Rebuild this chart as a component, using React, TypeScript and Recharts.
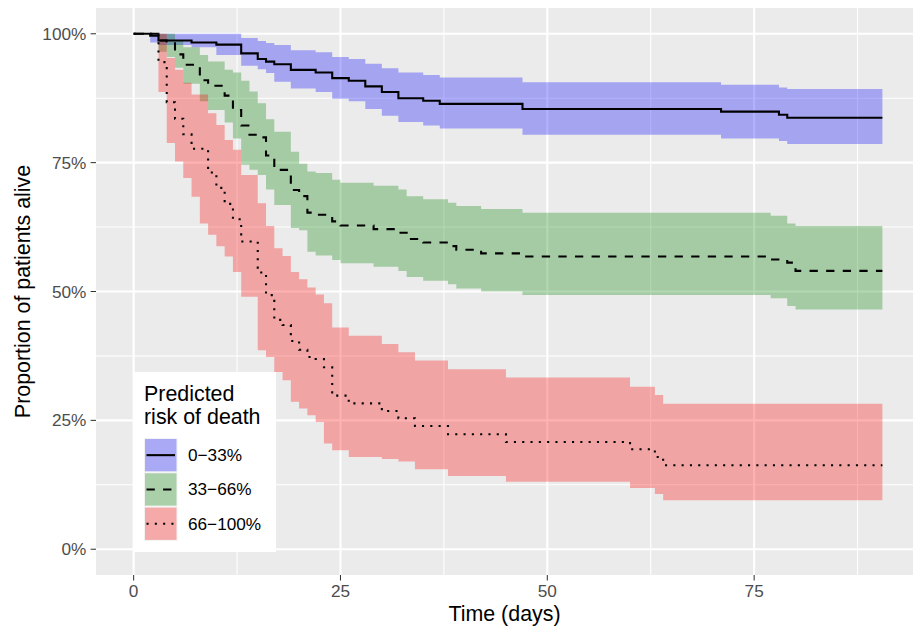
import {
  Area,
  CartesianGrid,
  ComposedChart,
  Legend,
  Line,
  XAxis,
  YAxis,
} from "recharts"

// days since admission, survival (%) and 95% band
const blueDays = [0, 2, 3, 7, 10, 13, 15, 16, 17, 19, 22, 24, 26, 28, 30, 32, 35, 37, 47, 71, 78, 79, 90.5]
const blueSurv = [100, 99.6, 98.7, 98.3, 97.9, 96.2, 95.1, 94.6, 94.1, 93.0, 92.5, 91.4, 90.9, 89.8, 88.7, 87.5, 87.0, 86.4, 85.4, 84.9, 84.3, 83.7, 83.7]
const blueLow = [100, 98.3, 97.8, 97.4, 95.9, 93.8, 93.1, 92.4, 90.7, 89.4, 88.7, 87.4, 86.9, 85.4, 84.1, 82.9, 82.2, 81.6, 80.4, 79.7, 79.2, 78.6, 78.6]
const blueHigh = [100, 100, 100, 100, 100, 99.2, 98.6, 98.2, 97.8, 96.8, 96.4, 95.5, 95.1, 94.2, 93.3, 92.5, 92.0, 91.5, 90.6, 90.1, 89.6, 89.3, 89.3]

const greenDays = [0, 3, 4, 5, 6, 8, 9, 11, 12, 13, 14, 15, 16, 17, 19, 20, 21, 22, 24, 25, 29, 32, 33, 35, 38, 39, 42, 47, 77, 79, 80, 90.5]
const greenSurv = [100, 98.7, 98.5, 96.0, 94.0, 91.0, 89.9, 88.0, 85.2, 82.2, 80.4, 79.9, 76.4, 73.6, 69.7, 68.5, 65.3, 64.9, 63.6, 62.8, 62.1, 61.4, 60.2, 59.5, 58.8, 58.1, 57.4, 56.8, 56.2, 55.6, 54.0, 54.0]
const greenLow = [100, 96.5, 95.5, 93.4, 90.3, 86.9, 85.2, 82.8, 79.7, 74.6, 73.6, 72.6, 69.8, 66.8, 62.3, 61.9, 57.7, 57.0, 56.1, 55.5, 54.8, 54.0, 52.8, 52.1, 51.4, 50.6, 50.0, 49.3, 48.7, 47.2, 46.5, 46.5]
const greenHigh = [100, 100, 100, 98.6, 97.4, 95.9, 94.6, 93.0, 92.5, 90.9, 88.8, 86.5, 83.4, 81.0, 77.1, 74.8, 73.3, 73.0, 71.7, 71.1, 70.5, 69.8, 68.5, 67.9, 67.2, 66.6, 66.0, 65.3, 64.7, 63.2, 62.7, 62.7]

const redDays = [0, 3, 4, 5, 6, 7, 8, 9, 10, 11, 12, 13, 15, 16, 17, 18, 19, 20, 21, 22, 23, 24, 26, 30, 32, 34, 38, 45, 60, 63, 64, 90.5]
const redSurv = [100, 94.5, 86.7, 83.5, 80.5, 77.7, 77.7, 73.1, 70.1, 67.0, 64.0, 59.7, 53.7, 49.3, 44.5, 43.5, 40.4, 38.7, 37.3, 36.9, 35.3, 29.8, 28.3, 26.8, 25.4, 23.9, 22.3, 20.8, 19.4, 17.9, 16.3, 16.3]
const redLow = [100, 88.7, 78.8, 75.2, 72.0, 68.4, 63.2, 61.0, 58.8, 56.8, 53.8, 49.0, 38.6, 37.3, 34.4, 32.8, 28.6, 27.3, 26.0, 24.7, 20.5, 19.2, 17.9, 17.5, 17.0, 15.5, 14.2, 13.1, 11.9, 10.7, 9.5, 9.5]
const redHigh = [100, 100, 95.3, 93.0, 90.5, 88.2, 88.2, 84.6, 82.3, 79.4, 77.5, 72.6, 67.1, 62.7, 58.4, 56.9, 53.8, 52.4, 50.8, 49.4, 47.7, 43.0, 41.4, 39.8, 38.2, 36.6, 34.9, 33.3, 31.5, 29.9, 28.2, 28.2]

const groupLabels = ["0\u221233%", "33\u221266%", "66\u2212100%"]
const groupFills = ["#0000FF", "#008000", "#FF0000"]
const groupDashes = [undefined, "8.3 8.3", "2.1 6.2"]

const xTicks = [0, 25, 50, 75]
const xMinor = [12.5, 37.5, 62.5, 87.5]
const yTicks = [0, 25, 50, 75, 100]
const yMinor = [12.5, 37.5, 62.5, 87.5]

const FONT = '"Liberation Sans", Arial, Helvetica, sans-serif'
const W = 920
const H = 629
const LEFT = 96
const TOP = 8
const RIGHT = 7
const BOTTOM = 54

function rows(days: number[], surv: number[], low: number[], high: number[]) {
  return days.map((t, i) => ({ t, s: surv[i], band: [low[i], high[i]] }))
}

const groups = [
  rows(blueDays, blueSurv, blueLow, blueHigh),
  rows(greenDays, greenSurv, greenLow, greenHigh),
  rows(redDays, redSurv, redLow, redHigh),
]

function LegendBox() {
  return (
    <svg width={143} height={180} style={{ display: "block" }}>
      <rect x={0} y={0} width={143} height={180} fill="#ffffff" />
      <text x={11} y={29} fontSize={21.4} fontFamily={FONT} fill="#000">
        Predicted
      </text>
      <text x={11} y={51.5} fontSize={21.4} fontFamily={FONT} fill="#000">
        risk of death
      </text>
      {groupLabels.map((label, i) => {
        const y = 66 + i * 34.3
        return (
          <g key={label}>
            <rect x={11} y={y} width={33.5} height={34.3} fill="#F2F2F2" />
            <rect
              x={12}
              y={y + 1}
              width={31.5}
              height={32.3}
              fill={groupFills[i]}
              fillOpacity={0.3}
            />
            <line
              x1={13.5}
              x2={42}
              y1={y + 17.15}
              y2={y + 17.15}
              stroke="#000"
              strokeWidth={2.07}
              strokeDasharray={groupDashes[i]}
            />
            <text
              x={55}
              y={y + 17.15}
              dy="0.35em"
              fontSize={17.2}
              fontFamily={FONT}
              fill="#000"
            >
              {label}
            </text>
          </g>
        )
      })}
    </svg>
  )
}

export default function App() {
  const plotMidY = TOP + (H - TOP - BOTTOM) / 2
  const plotMidX = LEFT + (W - LEFT - RIGHT) / 2
  return (
    <div style={{ width: W, height: H, background: "#fff" }}>
      <style>{"body{margin:0}"}</style>
      <ComposedChart
        width={W}
        height={H}
        margin={{ top: TOP, right: RIGHT, bottom: 0, left: 0 }}
      >
        <CartesianGrid
          fill="#EBEBEB"
          stroke="#FFFFFF"
          strokeWidth={1.03}
          verticalValues={xMinor}
          horizontalValues={yMinor}
        />
        <CartesianGrid
          fill="none"
          stroke="#FFFFFF"
          strokeWidth={2.07}
          verticalValues={xTicks}
          horizontalValues={yTicks}
        />

        <XAxis
          type="number"
          dataKey="t"
          domain={[-4.55, 94.2]}
          ticks={xTicks}
          interval={0}
          allowDataOverflow
          axisLine={false}
          tickLine={{ stroke: "#333333", strokeWidth: 1.03 }}
          tickSize={5.4}
          tickMargin={4}
          height={BOTTOM}
          tick={{ fill: "#4D4D4D", fontSize: 17.2, fontFamily: FONT }}
          label={() => (
            <text
              x={plotMidX}
              y={621}
              textAnchor="middle"
              fontSize={21.4}
              fontFamily={FONT}
              fill="#000"
            >
              Time (days)
            </text>
          )}
        />
        <YAxis
          type="number"
          domain={[-5, 105]}
          ticks={yTicks}
          interval={0}
          allowDataOverflow
          axisLine={false}
          tickLine={{ stroke: "#333333", strokeWidth: 1.03 }}
          tickSize={5.4}
          tickMargin={4.3}
          width={LEFT}
          tickFormatter={(v: number) => `${v}%`}
          tick={{ fill: "#4D4D4D", fontSize: 17.2, fontFamily: FONT }}
          label={() => (
            <text
              x={30}
              y={plotMidY}
              transform={`rotate(-90, 30, ${plotMidY})`}
              textAnchor="middle"
              fontSize={21.4}
              fontFamily={FONT}
              fill="#000"
            >
              Proportion of patients alive
            </text>
          )}
        />

        {groups.map((data, i) => (
          <Area
            key={`band-${i}`}
            data={data}
            dataKey="band"
            type="stepAfter"
            fill={groupFills[i]}
            fillOpacity={0.3}
            stroke="none"
            dot={false}
            activeDot={false}
            isAnimationActive={false}
          />
        ))}
        {groups.map((data, i) => (
          <Line
            key={`surv-${i}`}
            data={data}
            dataKey="s"
            type="stepAfter"
            stroke="#000000"
            strokeWidth={2.07}
            strokeDasharray={groupDashes[i]}
            dot={false}
            activeDot={false}
            isAnimationActive={false}
          />
        ))}

        <Legend
          layout="horizontal"
          verticalAlign="middle"
          align="center"
          content={() => <LegendBox />}
          wrapperStyle={{ left: 133, top: 372, width: 143, height: 180 }}
        />
      </ComposedChart>
    </div>
  )
}
